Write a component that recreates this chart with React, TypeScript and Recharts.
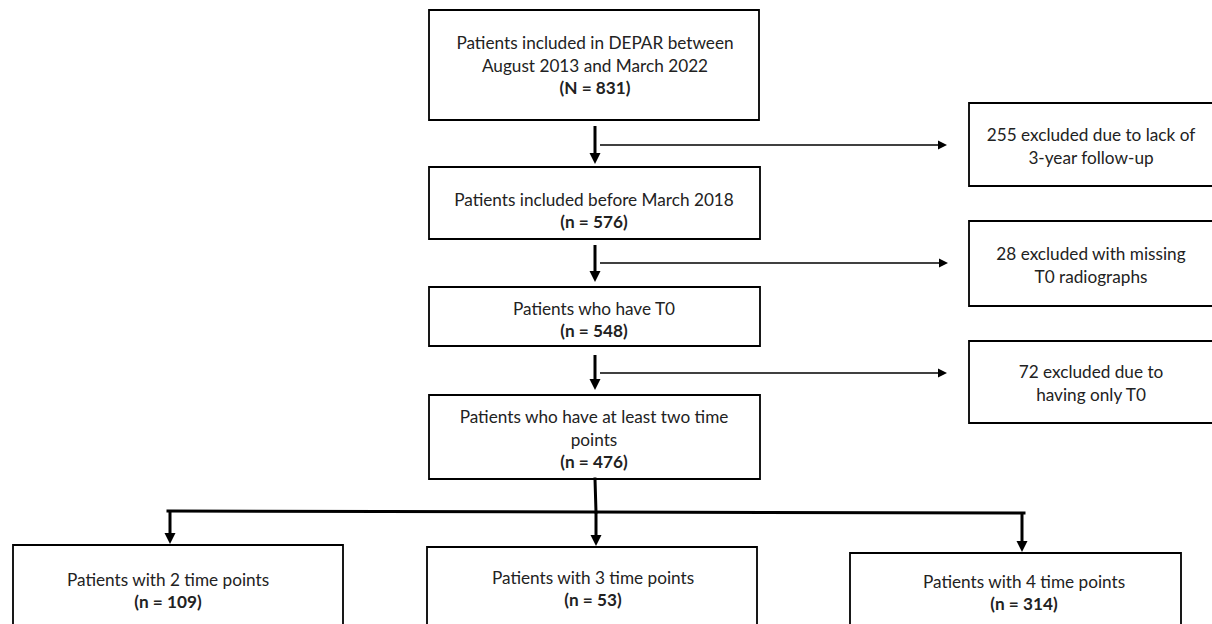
import React from "react";
import {
  ComposedChart,
  XAxis,
  YAxis,
  Scatter,
  ReferenceArea,
  ReferenceLine,
} from "recharts";

const W = 1212;
const H = 624;

// flow content
const boxTitles = [
  ["Patients included in DEPAR between", "August 2013 and March 2022"],
  ["Patients included before March 2018"],
  ["Patients who have T0"],
  ["Patients who have at least two time", "points"],
  ["255 excluded due to lack of", "3-year follow-up"],
  ["28 excluded with missing", "T0 radiographs"],
  ["72 excluded due to", "having only T0"],
  ["Patients with 2 time points"],
  ["Patients with 3 time points"],
  ["Patients with 4 time points"],
];
const boxCounts = ["(N = 831)", "(n = 576)", "(n = 548)", "(n = 476)", null, null, null, "(n = 109)", "(n = 53)", "(n = 314)"];

// layout (page pixels == axis units)
const boxRects = [
  [429, 10, 759, 120],
  [429, 167, 760, 239],
  [429, 287, 760, 346],
  [429, 395, 760, 479],
  [969, 103, 1230, 186],
  [969, 221, 1230, 306],
  [969, 341, 1230, 423],
  [13, 545, 343, 650],
  [427, 547, 757, 650],
  [850, 553, 1181, 650],
];
const textAnchors = [
  [595, 43],
  [594, 200],
  [594, 309],
  [594, 417],
  [1091, 135],
  [1091, 254],
  [1091, 372],
  [168, 580],
  [593, 578],
  [1024, 582],
];
const lineGap = 23;

const mainArrows = [
  [595, 126, 595, 164],
  [595, 245, 595, 282],
  [595, 355, 595, 390],
  [170, 511, 170, 544],
  [596, 511, 596, 546],
  [1022, 513, 1022, 552],
];
const sideArrows = [
  [600, 145, 947, 145],
  [600, 263, 948, 263],
  [600, 373, 947, 373],
];
const branchLines = [
  [595, 479, 596, 512],
  [168, 511, 1024, 513],
];

const textPoints = boxTitles.flatMap((lines, i) => {
  const [cx, cy] = textAnchors[i];
  const rows = lines.map((t, j) => ({ x: cx, y: cy + j * lineGap, text: t, bold: false }));
  if (boxCounts[i]) rows.push({ x: cx, y: cy + lines.length * lineGap - 1, text: boxCounts[i] as string, bold: true });
  return rows;
});

const arrowShape = (size: number, width: number) => (p: any) => {
  const { x1, y1, x2, y2 } = p;
  const dx = x2 - x1;
  const dy = y2 - y1;
  const len = Math.sqrt(dx * dx + dy * dy) || 1;
  const ux = dx / len;
  const uy = dy / len;
  const bx = x2 - ux * size;
  const by = y2 - uy * size;
  const half = size * 0.5;
  const pts = `${x2},${y2} ${bx - uy * half},${by + ux * half} ${bx + uy * half},${by - ux * half}`;
  return (
    <g>
      <line x1={x1} y1={y1} x2={bx + ux} y2={by + uy} stroke="#000" strokeWidth={width} />
      <polygon points={pts} fill="#000" />
    </g>
  );
};

const plainLine = (p: any) => (
  <line x1={p.x1} y1={p.y1} x2={p.x2} y2={p.y2} stroke="#000" strokeWidth={3} strokeLinecap="square" />
);

const TextMark = (props: any) => {
  const { cx, cy, payload } = props;
  return (
    <text
      x={cx}
      y={cy}
      dy="0.36em"
      textAnchor="middle"
      fontFamily="Lato, 'Open Sans', sans-serif"
      fontSize={17.2}
      fontWeight={payload.bold ? 700 : 400}
      fill="#222"
    >
      {payload.text}
    </text>
  );
};

export default function App() {
  return (
    <div style={{ position: "absolute", left: 0, top: 0, background: "#fff" }}>
      <ComposedChart width={W} height={H} margin={{ top: 0, right: 0, bottom: 0, left: 0 }}>
        <XAxis type="number" dataKey="x" domain={[0, W]} hide allowDataOverflow />
        <YAxis type="number" dataKey="y" domain={[0, H]} reversed hide allowDataOverflow />
        {boxRects.map(([x1, y1, x2, y2], i) => (
          <ReferenceArea
            key={`box-${i}`}
            x1={x1}
            x2={x2}
            y1={y1}
            y2={y2}
            ifOverflow="visible"
            fill="#fff"
            fillOpacity={1}
            stroke="#000"
            strokeWidth={1.8}
          />
        ))}
        {branchLines.map(([x1, y1, x2, y2], i) => (
          <ReferenceLine
            key={`br-${i}`}
            segment={[{ x: x1, y: y1 }, { x: x2, y: y2 }]}
            shape={plainLine}
          />
        ))}
        {mainArrows.map(([x1, y1, x2, y2], i) => (
          <ReferenceLine
            key={`ma-${i}`}
            segment={[{ x: x1, y: y1 }, { x: x2, y: y2 }]}
            shape={arrowShape(11, 3)}
          />
        ))}
        {sideArrows.map(([x1, y1, x2, y2], i) => (
          <ReferenceLine
            key={`sa-${i}`}
            segment={[{ x: x1, y: y1 }, { x: x2, y: y2 }]}
            shape={arrowShape(9, 1.3)}
          />
        ))}
        <Scatter data={textPoints} shape={TextMark} isAnimationActive={false} />
      </ComposedChart>
    </div>
  );
}
